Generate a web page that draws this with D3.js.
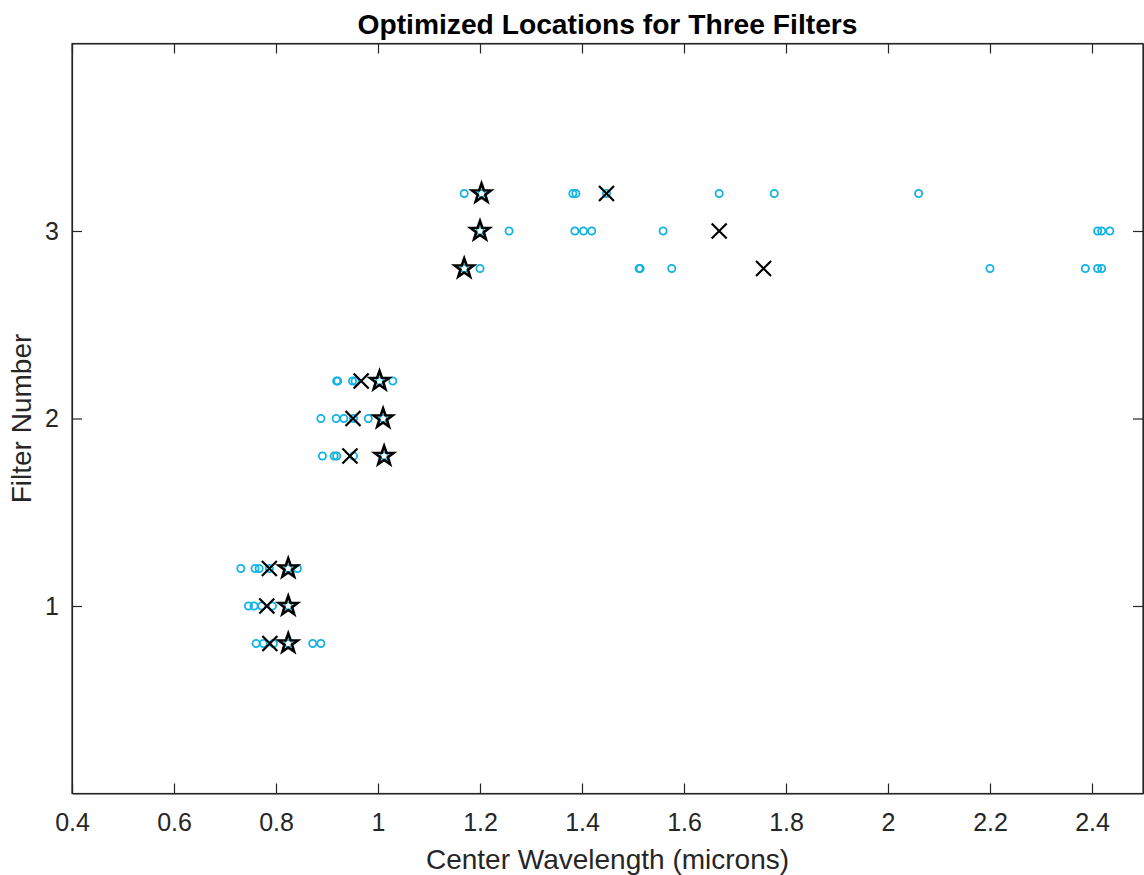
<!DOCTYPE html>
<html><head><meta charset="utf-8">
<script src="https://cdn.jsdelivr.net/npm/d3@7"></script>
<style>body{margin:0;background:#fff}svg{display:block}text{font-family:"Liberation Sans",Arial,sans-serif}</style>
</head><body><svg id="c" width="1144" height="875"></svg>
<script>
// Trial locations (cyan circles)
const circleX = [0.761,0.775,0.795,0.824,0.872,0.888,
  0.746,0.757,0.772,0.793,0.824,
  0.731,0.759,0.767,0.787,0.824,0.842,
  0.891,0.914,0.919,0.952,1.012,
  0.888,0.918,0.933,0.952,0.981,1.010,
  0.919,0.921,0.950,0.955,1.003,1.029,
  1.169,1.200,1.512,1.514,1.576,2.200,2.387,2.411,2.419,
  1.200,1.257,1.386,1.403,1.419,1.559,2.411,2.419,2.435,
  1.169,1.203,1.382,1.388,1.448,1.669,1.777,2.060];
const circleY = [0.8,0.8,0.8,0.8,0.8,0.8,
  1,1,1,1,1,
  1.2,1.2,1.2,1.2,1.2,1.2,
  1.8,1.8,1.8,1.8,1.8,
  2,2,2,2,2,2,
  2.2,2.2,2.2,2.2,2.2,2.2,
  2.8,2.8,2.8,2.8,2.8,2.8,2.8,2.8,2.8,
  3,3,3,3,3,3,3,3,3,
  3.2,3.2,3.2,3.2,3.2,3.2,3.2,3.2];
// Cross markers
const crossX = [0.788,0.782,0.787,0.945,0.951,0.967,1.756,1.669,1.448];
const crossY = [0.8,1,1.2,1.8,2,2.2,2.8,3,3.2];
// Star markers
const starX = [0.824,0.824,0.824,1.012,1.010,1.003,1.169,1.200,1.203];
const starY = [0.8,1,1.2,1.8,2,2.2,2.8,3,3.2];
const xTicks = [0.4,0.6,0.8,1,1.2,1.4,1.6,1.8,2,2.2,2.4];
const yTicks = [1,2,3];

const svg = d3.select("#c");
const L=72,R=1143,T=43.5,B=793.5;
const x = d3.scaleLinear().domain([0.4,2.5]).range([L,R]);
const y = d3.scaleLinear().domain([0,4]).range([B,T]);
const axCol="#262626";
const fmt = d3.format("");

// axes
const gx = svg.append("g").attr("transform",`translate(0,${B})`)
  .call(d3.axisBottom(x).tickValues(xTicks).tickSizeInner(-10).tickSizeOuter(0).tickPadding(20).tickFormat(fmt));
const gxt = svg.append("g").attr("transform",`translate(0,${T})`)
  .call(d3.axisTop(x).tickValues(xTicks).tickSizeInner(-10).tickSizeOuter(0).tickFormat(""));
const gy = svg.append("g").attr("transform",`translate(${L},0)`)
  .call(d3.axisLeft(y).tickValues(yTicks).tickSizeInner(-10).tickSizeOuter(0).tickPadding(13).tickFormat(fmt));
const gyr = svg.append("g").attr("transform",`translate(${R},0)`)
  .call(d3.axisRight(y).tickValues(yTicks).tickSizeInner(-10).tickSizeOuter(0).tickFormat(""));
[gx,gxt,gy,gyr].forEach(g=>{
  g.attr("font-size",null).attr("font-family",null);
  g.selectAll("path").attr("stroke",axCol).attr("stroke-width",1.2);
  g.selectAll("line").attr("stroke",axCol).attr("stroke-width",1.2);
  g.selectAll("text").attr("fill",axCol).style("font-size","25px");
});
svg.append("rect").attr("x",L).attr("y",T).attr("width",R-L).attr("height",B-T)
  .attr("fill","none").attr("stroke",axCol).attr("stroke-width",1.2);

// circles
svg.append("g").selectAll("circle").data(circleX.map((v,i)=>[v,circleY[i]])).join("circle")
  .attr("cx",d=>x(d[0])).attr("cy",d=>y(d[1])).attr("r",3.6)
  .attr("fill","none").attr("stroke","#12b2e4").attr("stroke-width",1.8);

// crosses
const cs=7.5;
svg.append("g").selectAll("path").data(crossX.map((v,i)=>[v,crossY[i]])).join("path")
  .attr("d",d=>{const cx=x(d[0]),cy=y(d[1]);return `M${cx-cs},${cy-cs}L${cx+cs},${cy+cs}M${cx-cs},${cy+cs}L${cx+cs},${cy-cs}`;})
  .attr("stroke","#000").attr("stroke-width",2.2).attr("fill","none");

// stars
function starPath(cx,cy,ro,ri){
  let p="";
  for(let k=0;k<10;k++){
    const r=k%2?ri:ro; const a=-Math.PI/2+k*Math.PI/5;
    p+=(k?"L":"M")+(cx+r*Math.cos(a)).toFixed(2)+","+(cy+r*Math.sin(a)).toFixed(2);
  }
  return p+"Z";
}
svg.append("g").selectAll("path").data(starX.map((v,i)=>[v,starY[i]])).join("path")
  .attr("d",d=>starPath(x(d[0]),y(d[1]),10,4))
  .attr("stroke","#000").attr("stroke-width",2.6).attr("fill","none").attr("stroke-linejoin","miter");

// labels
svg.append("text").attr("x",(L+R)/2).attr("y",34).attr("text-anchor","middle")
  .style("font-size","28px").style("font-weight","bold").attr("fill","#000")
  .attr("textLength",500).attr("lengthAdjust","spacingAndGlyphs")
  .text("Optimized Locations for Three Filters");
svg.append("text").attr("x",(L+R)/2).attr("y",869).attr("text-anchor","middle")
  .style("font-size","28px").attr("fill",axCol).text("Center Wavelength (microns)");
svg.append("text").attr("transform",`translate(31,${(T+B)/2}) rotate(-90)`).attr("text-anchor","middle")
  .style("font-size","28px").attr("fill",axCol).text("Filter Number");
</script></body></html>
